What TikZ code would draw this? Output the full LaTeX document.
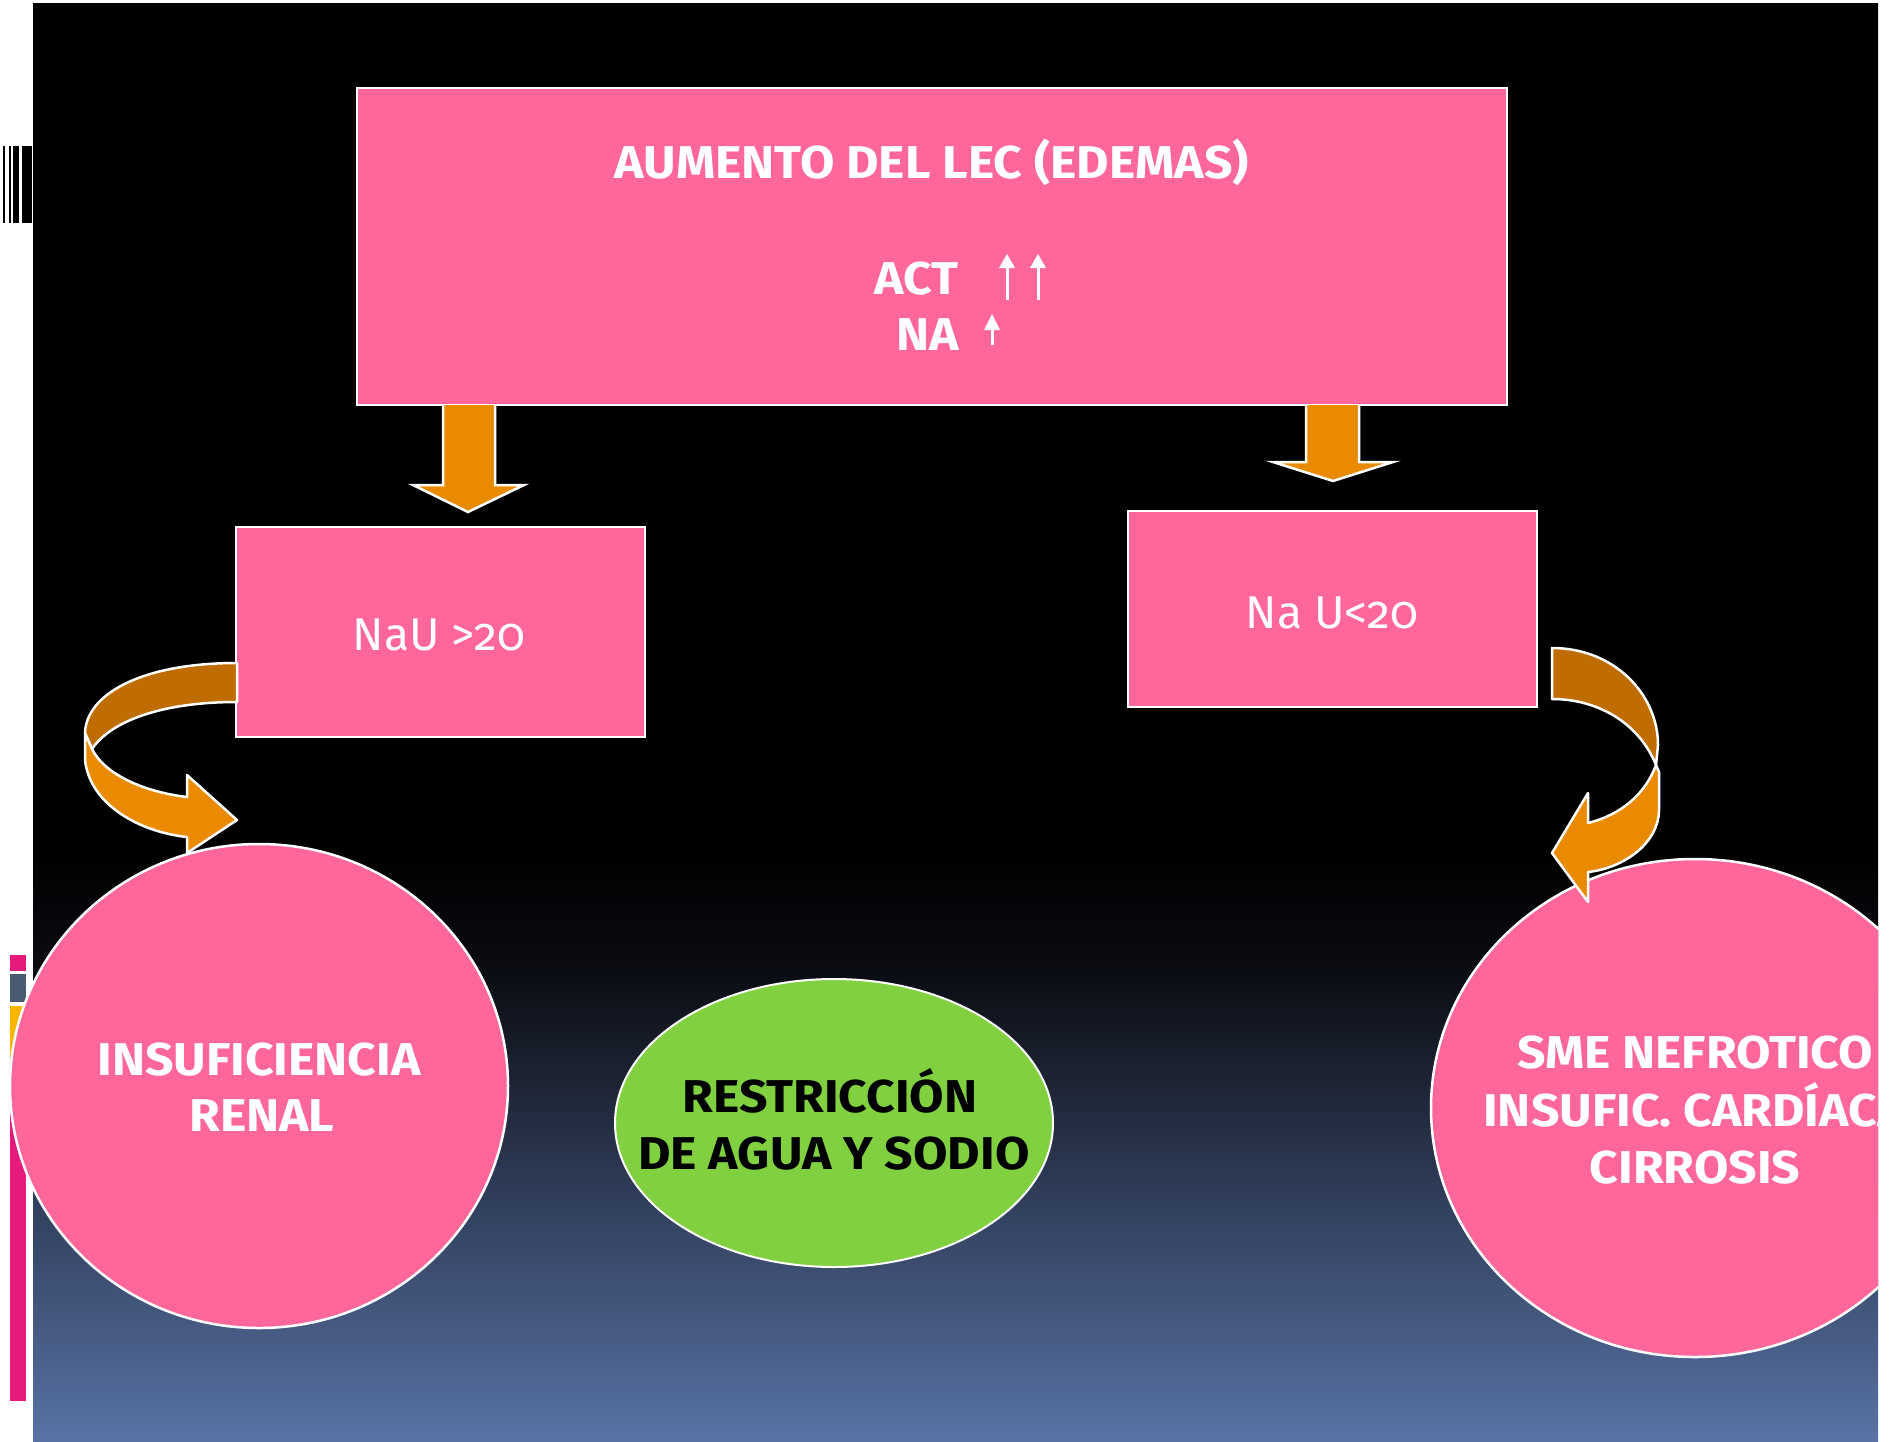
\documentclass[tikz,border=0pt]{standalone}
\usepackage{fontspec}
\setmainfont{Fira Sans}[Numbers=OldStyle, BoldFeatures={FakeStretch=1.085}]
\usetikzlibrary{shapes.geometric}
\definecolor{boxpink}{RGB}{255,102,153}
\definecolor{orlight}{RGB}{234,138,0}
\definecolor{ordark}{RGB}{191,108,0}
\definecolor{leafgreen}{RGB}{128,208,64}
\definecolor{strippink}{RGB}{230,25,125}
\definecolor{stripgray}{RGB}{74,90,112}
\definecolor{stripyellow}{RGB}{255,180,0}
\definecolor{bgA}{RGB}{88,115,165}
\definecolor{bgB}{RGB}{70,90,130}
\definecolor{bgC}{RGB}{50,65,95}
\definecolor{bgD}{RGB}{30,38,55}
\definecolor{bgE}{RGB}{10,12,18}
\pgfdeclareverticalshading{bgshade}{100bp}{color(0bp)=(bgA); color(25bp)=(bgA); color(28.9bp)=(bgB); color(33bp)=(bgC); color(37.2bp)=(bgD); color(41.4bp)=(bgE); color(45.5bp)=(black); color(100bp)=(black)}
\tikzset{
  pinkbox/.style={draw=white, line width=2.5pt, fill=boxpink, rectangle, inner sep=0pt},
  pinkround/.style={draw=white, line width=2.5pt, fill=boxpink, ellipse, inner sep=0pt},
  greenround/.style={draw=white, line width=2pt, fill=leafgreen, ellipse, inner sep=0pt},
  blockarrow/.style={draw=white, line width=2.5pt, fill=orlight, line join=miter},
  blockback/.style={draw=white, line width=2.5pt, fill=ordark, line join=round},
  boldtxt/.style={text=white, font=\fontsize{46}{56}\selectfont\bfseries, inner sep=0pt},
  regtxt/.style={text=white, font=\fontsize{46}{56}\selectfont, inner sep=0pt},
  darktxt/.style={text=black, font=\fontsize{46}{56}\selectfont\bfseries, inner sep=0pt}
}
\begin{document}
\begin{tikzpicture}[x=1pt,y=-1pt]
\useasboundingbox (0,0) rectangle (1898,1441);
\fill[white] (0,0) rectangle (1898,1441);
\shade[shading=bgshade] (33,3) rectangle (1878,1441);
% barcode
\fill[black] (3,146) rectangle (5,223);
\fill[black] (9,146) rectangle (11,223);
\fill[black] (13,146) rectangle (19,223);
\fill[black] (22,146) rectangle (32,223);
% left strips
\fill[strippink] (10,955) rectangle (26,971);
\fill[stripgray] (10,974) rectangle (26,1002);
\fill[stripyellow] (10,1006) rectangle (26,1060);
\fill[strippink] (10,1063) rectangle (26,1401);
% top box
\node[pinkbox, minimum width=1150pt, minimum height=317pt] (top) at (932,246.5) {};
\node[boldtxt, anchor=base] (title) at (932,178) {AUMENTO DEL LEC (EDEMAS)};
\node[boldtxt, anchor=base east] (act) at (959,294) {ACT};
\node[boldtxt, anchor=base east] (na) at (959,350) {NA};
% small up arrows
\draw[white, line width=3pt] (1007,300) -- (1007,266);
\fill[white] (1007,254) -- (1015,268) -- (999,268) -- cycle;
\draw[white, line width=3pt] (1038,300) -- (1038,266);
\fill[white] (1038,254) -- (1046,268) -- (1030,268) -- cycle;
\draw[white, line width=3pt] (992,345) -- (992,326);
\fill[white] (992,314) -- (1000,330) -- (984,330) -- cycle;
% down block arrows
\draw[blockarrow] (443,405) -- (443,485) -- (413,485) -- (468,512) -- (524,485) -- (495,485) -- (495,405);
\draw[blockarrow] (1306,405) -- (1306,462) -- (1273,462) -- (1333,481) -- (1393,462) -- (1359,462) -- (1359,405);
% second level boxes
\node[pinkbox, minimum width=409pt, minimum height=210pt] (nau1) at (440.5,632) {};
\node[regtxt, anchor=base] (nau1t) at (439,650) {NaU >20};
\node[pinkbox, minimum width=409pt, minimum height=196pt] (nau2) at (1332.5,609) {};
\node[regtxt, anchor=base] (nau2t) at (1332,628) {Na U<20};
% left curved arrow
\draw[blockback] (237,663) .. controls (140,663) and (86,695) .. (85,733) -- (92,749) .. controls (110,722) and (160,702) .. (237,702) -- cycle;
\draw[blockarrow, line join=round] (85,733) -- (85,760) .. controls (90,805) and (140,832) .. (187,837) -- (187,853) -- (237,820) -- (187,775) -- (187,797) .. controls (145,792) and (105,775) .. (92,749) -- cycle;
% left circle
\node[pinkround, minimum width=498pt, minimum height=484pt] (ir) at (259,1086) {};
\node[boldtxt, anchor=base] (irt1) at (259,1075) {INSUFICIENCIA};
\node[boldtxt, anchor=base] (irt2) at (262,1131) {RENAL};
% green ellipse
\node[greenround, minimum width=438pt, minimum height=288pt] (rest) at (834,1123) {};
\node[darktxt, anchor=base] (restt1) at (830,1112) {RESTRICCIÓN};
\node[darktxt, anchor=base] (restt2) at (834,1169) {DE AGUA Y SODIO};
% right circle (clipped at slide edge)
\begin{scope}
\clip (33,3) rectangle (1878,1441);
\node[pinkround, minimum width=528pt, minimum height=498pt] (sme) at (1695,1108) {};
\node[boldtxt, anchor=base] (smet1) at (1695,1068) {SME NEFROTICO};
\node[boldtxt, anchor=base] (smet2) at (1695,1126) {INSUFIC. CARDÍACA};
\node[boldtxt, anchor=base] (smet3) at (1695,1183) {CIRROSIS};
\end{scope}
% right curved arrow
\draw[blockback] (1552,648) .. controls (1615,648) and (1658,695) .. (1658,745) -- (1656,765) .. controls (1640,725) and (1600,699) .. (1552,699) -- cycle;
\draw[blockarrow, line join=round] (1656,765) -- (1659,772) -- (1659,810) .. controls (1659,842) and (1625,868) .. (1588,872) -- (1588,902) -- (1552,853) -- (1588,793) -- (1588,823) .. controls (1620,815) and (1645,795) .. (1656,765) -- cycle;
\end{tikzpicture}
\end{document}
